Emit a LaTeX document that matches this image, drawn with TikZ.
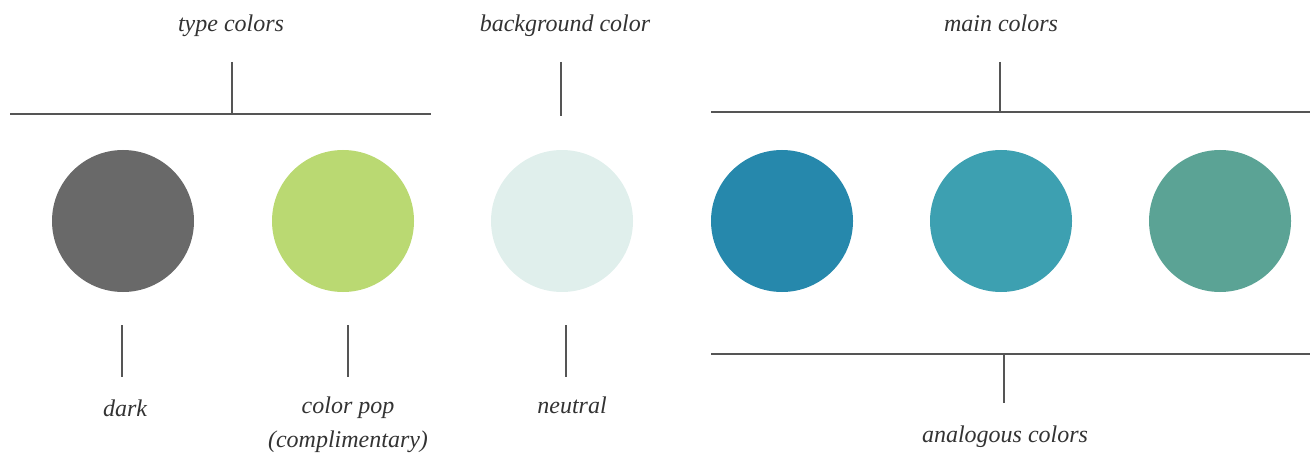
\documentclass[tikz,border=0pt]{standalone}
\usepackage{fontspec}
\setmainfont{Liberation Serif}
\definecolor{cdark}{HTML}{696969}
\definecolor{cpop}{HTML}{BAD972}
\definecolor{cneutral}{HTML}{E0EFEC}
\definecolor{cblue}{HTML}{2688AC}
\definecolor{cteal}{HTML}{3DA0B1}
\definecolor{cgreen}{HTML}{5BA395}
\definecolor{cline}{HTML}{555555}
\begin{document}
\begin{tikzpicture}[x=1pt, y=-1pt, font=\fontsize{24}{34}\selectfont\itshape,
			line cap=butt, line join=round,
			swatch/.style={circle, minimum size=142pt, inner sep=0pt},
			lbl/.style={text=black!80, inner sep=0pt, anchor=base},
			rule/.style={cline, line width=1.6pt}]
			\useasboundingbox (0,0) rectangle (1313,457);
			% swatches
			\foreach  \n/\x/\c in {dark/123/cdark,pop/343/cpop,neutral/562/cneutral,blue/782/cblue,teal/1001/cteal,green/1220/cgreen}
			\node[swatch, fill=\c] (\n) at (\x,221) {};
			% top labels
			\node[lbl] (ltype) at (231,32) {type colors};
			\node[lbl] (lback) at (565,32) {background color};
			\node[lbl] (lmain) at (1001,32) {main colors};
			% bottom labels
			\node[lbl] (ldark) at (125,416) {dark};
			\node[lbl] (lpop) at (348,413) {color pop};
			\node[lbl] (lcomp) at (348,447) {(complimentary)};
			\node[lbl] (lneutral) at (572,413) {neutral};
			\node[lbl] (lanalog) at (1005,442) {analogous colors};
			% brackets
			\coordinate (tl) at (10,114);
			\coordinate (tr) at (431,114);
			\coordinate (ml) at (711,112);
			\coordinate (mr) at (1310,112);
			\coordinate (bl) at (711,354);
			\coordinate (br) at (1310,354);
			\draw[rule] (tl)--(tr);
			\draw[rule] (ml)--(mr);
			\draw[rule] (bl)--(br);
			\draw[rule] (232,62)--(232,114);
			\draw[rule] (561,62)--(561,116);
			\draw[rule] (1000,62)--(1000,112);
			\draw[rule] (1004,354)--(1004,403);
			\foreach  \x in {122,348,566}
			\draw[rule] (\x,325)--(\x,377);
	\end{tikzpicture}
\end{document}
